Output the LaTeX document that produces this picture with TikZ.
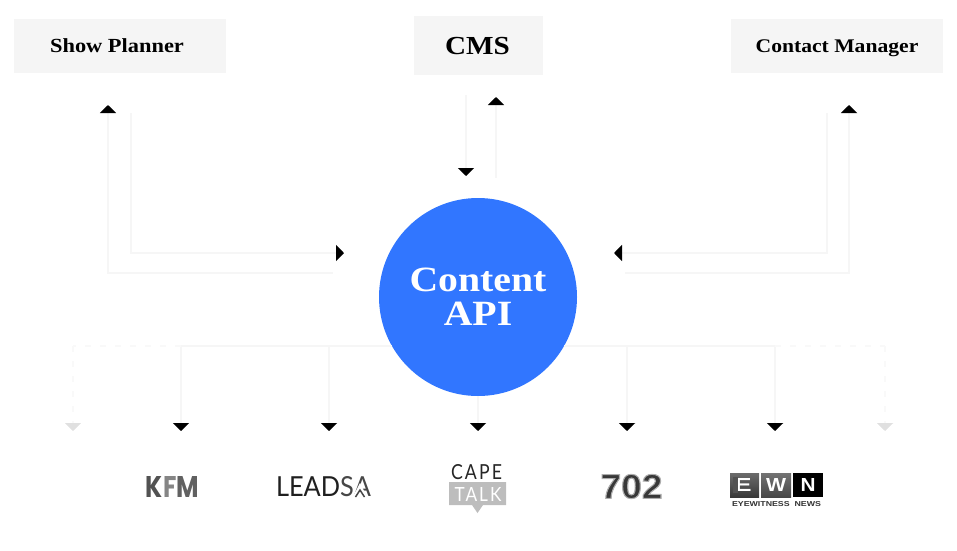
\documentclass[tikz,border=0pt]{standalone}
\usepackage{graphicx}
\usepackage{fontspec}
\setmainfont{Liberation Serif}
\newfontfamily\hdfont[FakeStretch=1.12]{Liberation Serif}
\newfontfamily\logofont{Liberation Sans}
\newfontfamily\kfmfont{Poppins}
\newfontfamily\leadfont{Lato}
\newfontfamily\capefont[LetterSpace=12]{Lato}
\usetikzlibrary{arrows.meta}
\definecolor{linegrey}{HTML}{F6F6F6}
\definecolor{fadeline}{HTML}{F9F9F9}
\definecolor{boxgrey}{HTML}{F5F5F5}
\definecolor{apiblue}{HTML}{3176FF}
\definecolor{fadetip}{HTML}{E0E0E0}
\definecolor{talkgrey}{HTML}{BDBDBD}
\newcommand{\fitbox}[3]{\resizebox{#1pt}{#2pt}{#3}}
\tikzset{
  x=1pt,y=-1pt,
  link/.style={draw=linegrey,line width=2pt,-{Triangle[length=8pt,width=16pt,color=black,fill=black]}},
  plainlink/.style={draw=linegrey,line width=2pt},
  fadelink/.style={draw=fadeline,line width=2pt,dash pattern=on 6pt off 9pt},
  fadetiplink/.style={draw=fadeline,line width=2pt,dash pattern=on 6pt off 9pt,-{Triangle[length=8pt,width=16pt,color=fadetip,fill=fadetip]}},
  logo/.style={inner sep=0pt,outer sep=0pt},
}
\begin{document}
\begin{tikzpicture}
\useasboundingbox (0,0) rectangle (957,550);
% top boxes
\fill[boxgrey] (14,19) rectangle (226,73);
\node[logo,font=\hdfont\bfseries\fontsize{20}{24}\selectfont,anchor=base] (planner) at (117,52) {Show Planner};
\fill[boxgrey] (414,16) rectangle (543,75);
\node[logo,font=\hdfont\bfseries\fontsize{26}{30}\selectfont,anchor=base] (cms) at (477.5,54) {CMS};
\fill[boxgrey] (731,19) rectangle (943,73);
\node[logo,font=\hdfont\bfseries\fontsize{19.3}{24}\selectfont,anchor=base] (contact) at (837,52) {Contact Manager};
% central circle
\node[circle,fill=apiblue,minimum size=198pt,inner sep=0pt,text=white,align=center,font=\hdfont\bfseries\fontsize{35.5}{34}\selectfont] (api) at (478,297) {Content\\API};
% free ends
\coordinate (lo) at (333,273);
\coordinate (lup) at (108,105);
\coordinate (li) at (131,113);
\coordinate (lin) at (344,253);
\coordinate (ro) at (625,273);
\coordinate (rup) at (849,105);
\coordinate (ri) at (827,113);
\coordinate (rin) at (614,253);
\coordinate (cd0) at (466,95);
\coordinate (cd1) at (466,176);
\coordinate (cu0) at (496,178);
\coordinate (cu1) at (496,97);
% upper connectors
\draw[link] (lo) -| (lup);
\draw[link] (li) |- (lin);
\draw[link] (ro) -| (rup);
\draw[link] (ri) |- (rin);
\draw[link] (cd0) -- (cd1);
\draw[link] (cu0) -- (cu1);
% lower bus
\coordinate (bl0) at (392,346);
\coordinate (br0) at (564,346);
\coordinate (bl1) at (329,346);
\coordinate (bl2) at (181,346);
\coordinate (bl3) at (73,346);
\coordinate (br1) at (627,346);
\coordinate (br2) at (775,346);
\coordinate (br3) at (885,346);
\coordinate (tl1) at (329,431);
\coordinate (tl2) at (181,431);
\coordinate (tl3) at (73,431);
\coordinate (tc) at (478,431);
\coordinate (tr1) at (627,431);
\coordinate (tr2) at (775,431);
\coordinate (tr3) at (885,431);
\draw[plainlink] (bl0) -- (bl2);
\draw[plainlink] (br0) -- (br2);
\draw[link] (bl1) -- (tl1);
\draw[link] (bl2) -- (tl2);
\draw[link] (br1) -- (tr1);
\draw[link] (br2) -- (tr2);
\draw[link] (api.south) -- (tc);
\draw[fadelink] (bl2) -- (bl3);
\draw[fadelink] (br2) -- (br3);
\draw[fadetiplink] (bl3) -- (tl3);
\draw[fadetiplink] (br3) -- (tr3);
% logos
\node[logo] (kfm) at (172.5,487) {\fitbox{53}{21}{\kfmfont\bfseries\textcolor{black!68}{K}\textcolor{black!48}{F}\textcolor{black!62}{M}}};
\node[logo,text=black!88] (lead) at (323.5,487) {\fitbox{95}{20}{\leadfont LEAD\textcolor{black!72}{S}\textcolor{black!72}{A}}};
\fill[white] (352.5,497.5) -- (360,483) -- (367.5,497.5) -- cycle;
\draw[black!72,line width=1.5pt] (355.5,497) -- (360,490) -- (364.5,497);
\node[logo,text=black!85] (cape) at (476.5,472.5) {\fitbox{51}{15}{\capefont CAPE}};
\fill[talkgrey] (449,482) -- (506,482) -- (506,505) -- (483,505) -- (477.5,513) -- (472,505) -- (449,505) -- cycle;
\node[logo,text=white] (talk) at (478,494) {\fitbox{47}{14}{\capefont TALK}};
\node[logo,text=black!78] (sevenohtwo) at (631.5,486.5) {\fitbox{62}{24}{\logofont\bfseries\special{pdf:code 2 Tr 0.3 w 0.68 G}702\special{pdf:code 0 Tr 0 G 1 w}}};
\shade[top color=black!58,bottom color=black!78] (730,473) rectangle (759,497);
\shade[top color=black!55,bottom color=black!72] (761,473) rectangle (791,497);
\fill[black] (793,473) rectangle (823,497);
\node[logo,text=white] (ewne) at (743,485) {\fitbox{17}{13}{\logofont\bfseries E}};
\fill[black!68] (733,477) rectangle (738,493);
\node[logo,text=white] (ewnw) at (776,485) {\fitbox{20}{13}{\logofont\bfseries W}};
\node[logo,text=white] (ewnn) at (808,485) {\fitbox{15}{13}{\logofont\bfseries N}};
\node[logo,text=black!80] (ewntxt) at (776.5,504.5) {\fitbox{89}{5}{\logofont\bfseries EYEWITNESS\ \ NEWS}};
\end{tikzpicture}
\end{document}
